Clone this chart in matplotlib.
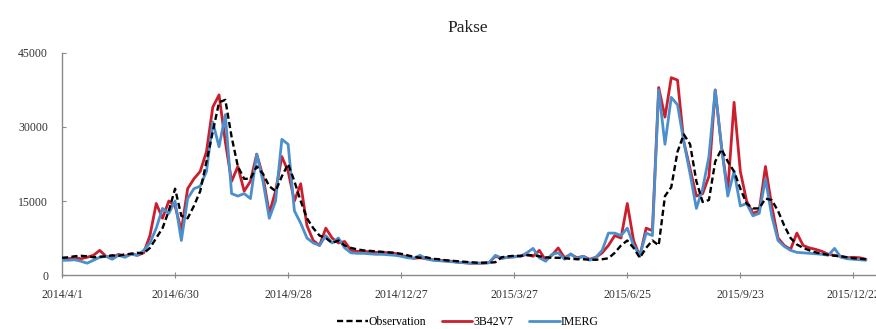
import numpy as np
import pandas as pd
import matplotlib
matplotlib.use("Agg")
import matplotlib.pyplot as plt

# daily discharge sampled every 5 days from 2014/4/1 (values in thousand m3/s)
start_date = "2014-04-01"
step_days = 5

observation = [
    3.5, 3.6, 3.8, 3.9, 3.8, 3.6, 3.7, 3.8, 4.0, 3.9,
    4.2, 4.3, 4.5, 4.4, 5.5, 7.5, 9.5, 13.0, 17.5, 12.0,
    11.5, 14.0, 17.0, 23.0, 29.0, 35.0, 35.5, 28.0, 22.0, 19.5,
    19.5, 22.0, 20.5, 18.0, 17.0, 20.0, 22.5, 19.0, 15.0, 11.5,
    9.5, 8.0, 7.5, 6.5, 7.0, 6.0, 5.5, 5.2, 5.0, 4.9,
    4.8, 4.7, 4.6, 4.5, 4.3, 4.0, 3.7, 3.5, 3.6, 3.3,
    3.2, 3.0, 2.9, 2.8, 2.7, 2.6, 2.5, 2.5, 2.5, 2.6,
    3.6, 3.8, 3.9, 3.9, 4.0, 4.0, 3.8, 3.6, 3.5, 3.5,
    3.4, 3.3, 3.2, 3.2, 3.1, 3.1, 3.2, 3.4, 4.5, 6.0,
    7.0, 5.5, 3.5, 5.5, 7.0, 6.0, 16.0, 17.8, 25.0, 28.5,
    26.5, 19.0, 14.8, 15.2, 23.0, 25.5, 23.0, 21.0, 17.5, 14.5,
    13.5, 13.5, 15.5, 15.2, 13.0, 10.0, 7.5, 6.2, 5.5, 5.0,
    4.6, 4.3, 4.1, 3.9, 3.8, 3.6, 3.4, 3.3, 3.2,
]

tmpa_3b42v7 = [
    3.2, 3.3, 3.5, 3.3, 3.6, 4.0, 5.0, 3.8, 3.5, 4.2,
    3.8, 4.3, 4.0, 4.5, 8.0, 14.5, 11.5, 15.0, 14.0, 9.0,
    17.5, 19.5, 21.0, 25.0, 34.0, 36.5, 27.0, 19.0, 22.0, 17.0,
    19.0, 24.5, 20.0, 12.5, 17.0, 24.0, 21.0, 15.0, 18.5, 10.0,
    7.0, 6.0, 9.5, 7.5, 6.5, 6.8, 5.0, 4.8, 4.8, 4.7,
    4.6, 4.6, 4.5, 4.4, 4.0, 3.7, 3.4, 3.5, 3.3, 3.1,
    3.0, 2.9, 2.8, 2.6, 2.5, 2.4, 2.4, 2.4, 2.5, 3.8,
    3.4, 3.6, 3.7, 3.8, 4.2, 3.8, 5.0, 3.0, 4.0, 5.5,
    3.5, 4.2, 3.5, 3.8, 3.2, 3.6, 4.5, 6.0, 8.0, 7.5,
    14.5, 7.0, 3.8, 9.5, 9.0, 38.0, 32.0, 40.0, 39.5, 27.0,
    21.5, 16.0, 16.5, 20.0, 37.5, 26.0, 17.0, 35.0, 21.0, 15.0,
    12.5, 13.0, 22.0, 14.0, 7.5, 6.0, 5.2, 8.5, 6.0, 5.5,
    5.2, 4.8, 4.2, 4.0, 3.8, 3.5, 3.6, 3.5, 3.2,
]

imerg = [
    3.0, 3.0, 3.1, 2.8, 2.4, 3.0, 3.6, 3.8, 3.2, 4.0,
    3.6, 4.2, 4.0, 5.0, 6.5, 9.5, 13.5, 12.5, 15.0, 7.0,
    15.5, 17.5, 18.0, 21.0, 31.0, 26.0, 32.5, 16.5, 16.0, 16.5,
    15.5, 24.5, 19.0, 11.5, 15.0, 27.5, 26.5, 13.0, 10.5, 7.5,
    6.5, 6.0, 8.0, 6.5, 7.5, 5.5, 4.5, 4.4, 4.4, 4.3,
    4.2, 4.2, 4.1, 4.0, 3.8, 3.5, 3.4, 4.0, 3.3, 3.0,
    2.9, 2.8, 2.7, 2.6, 2.5, 2.4, 2.4, 2.4, 2.5, 4.0,
    3.4, 3.6, 3.7, 3.8, 4.5, 5.4, 3.5, 2.8, 4.2, 4.5,
    3.2, 4.3, 3.3, 3.8, 3.0, 3.6, 5.0, 8.5, 8.5, 8.0,
    9.5, 6.0, 4.0, 8.5, 8.0, 37.5, 26.5, 36.0, 34.5, 27.0,
    20.5, 13.5, 17.5, 24.0, 37.5, 26.0, 16.0, 21.0, 14.0, 14.5,
    12.0, 12.5, 19.5, 12.0, 7.0, 5.8, 5.0, 4.6, 4.5, 4.4,
    4.3, 4.2, 4.0, 5.4, 3.6, 3.3, 3.2, 3.1, 3.0,
]

tick_dates = ["2014-04-01", "2014-06-30", "2014-09-28", "2014-12-27",
              "2015-03-27", "2015-06-25", "2015-09-23", "2015-12-22"]
tick_labels = ["2014/4/1", "2014/6/30", "2014/9/28", "2014/12/27",
               "2015/3/27", "2015/6/25", "2015/9/23", "2015/12/22"]
y_ticks = [0, 15000, 30000, 45000]

dates = pd.date_range(start_date, periods=len(observation), freq=f"{step_days}D")
obs = np.array(observation) * 1000
trmm = np.array(tmpa_3b42v7) * 1000
gpm = np.array(imerg) * 1000

plt.rcParams["font.family"] = ["Liberation Serif", "DejaVu Serif"]

fig = plt.figure(figsize=(8.76, 3.29), dpi=100)
ax = fig.add_axes([0.0708, 0.164, 0.9292, 0.675])

style = dict(lw=2.0, solid_joinstyle="round", solid_capstyle="round")
ax.plot(dates, trmm, color="#cc1f2d", label="3B42V7", zorder=2, **style)
ax.plot(dates, gpm, color="#4b90cc", label="IMERG", zorder=3, **style)
ax.plot(dates, obs, color="black", lw=1.7, ls=(0, (2.6, 1.4)), label="Observation", zorder=4)

ax.set_xlim(pd.Timestamp("2014-04-01"), pd.Timestamp("2016-01-09"))
ax.set_ylim(0, 45000)
ax.set_yticks(y_ticks)
ax.set_yticklabels([str(v) for v in y_ticks])
ax.set_xticks(pd.to_datetime(tick_dates))
ax.set_xticklabels(tick_labels)

for side in ["top", "right"]:
    ax.spines[side].set_visible(False)
for side in ["left", "bottom"]:
    ax.spines[side].set_color("#8a8a8a")
    ax.spines[side].set_linewidth(1.0)
ax.tick_params(axis="x", direction="inout", length=4, color="#8a8a8a",
               labelsize=8.5, labelcolor="#333333", pad=8)
ax.tick_params(axis="y", direction="in", length=3, color="#8a8a8a",
               labelsize=8.5, labelcolor="#333333", pad=10)

fig.text(0.534, 0.915, "Pakse", ha="center", va="center", fontsize=12.5, color="#222222")

handles, labels = ax.get_legend_handles_labels()
order = [2, 0, 1]
fig.legend([handles[i] for i in order], [labels[i] for i in order],
           loc="center", bbox_to_anchor=(0.534, 0.02), ncol=3, frameon=False,
           fontsize=8.5, handlelength=2.6, handletextpad=0.1, columnspacing=1.3)

fig.savefig("out.png", dpi=100)
